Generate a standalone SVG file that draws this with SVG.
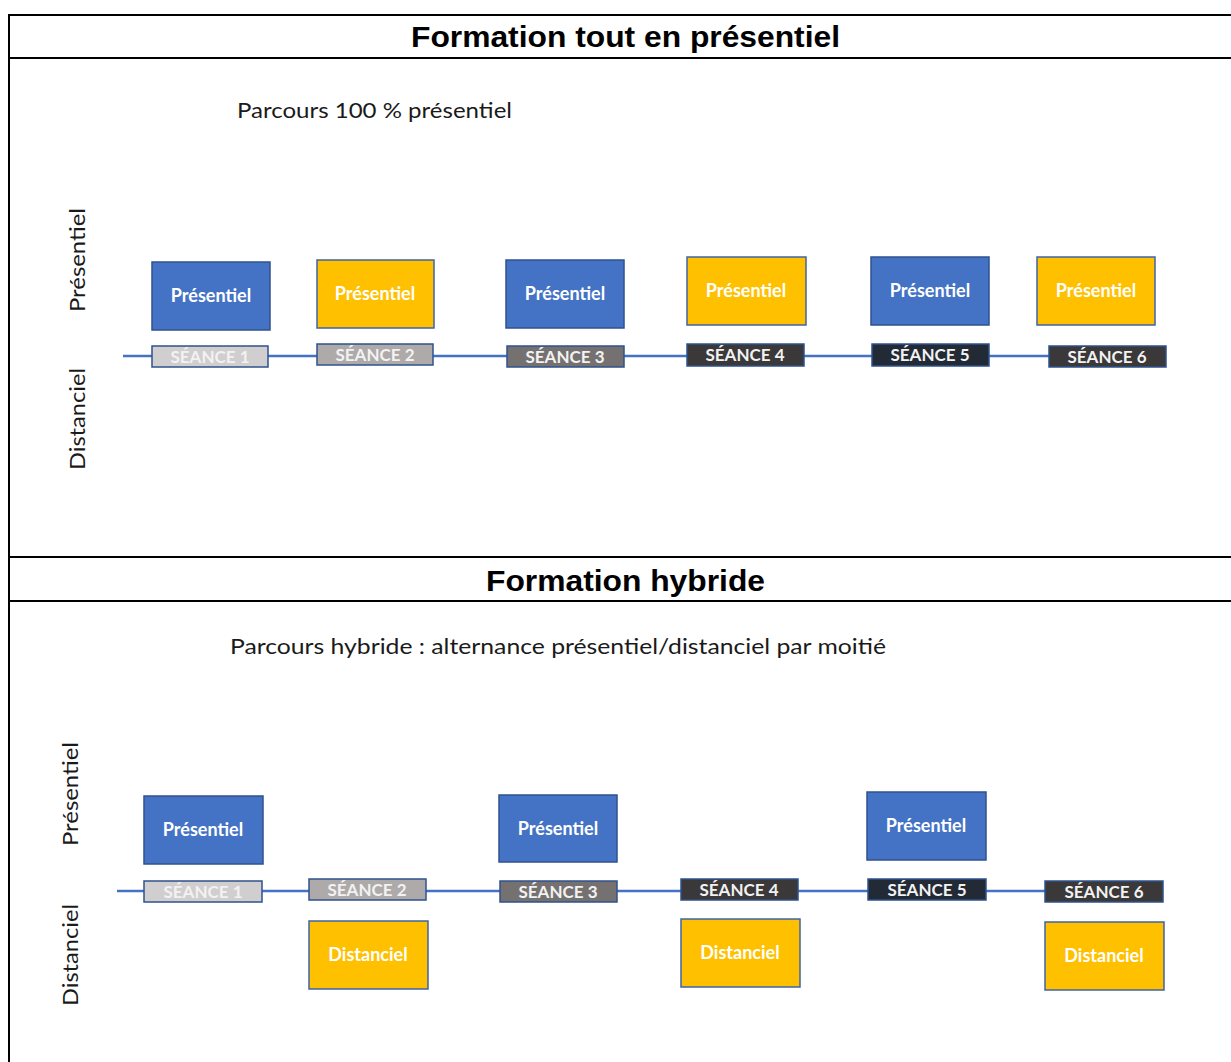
<svg xmlns="http://www.w3.org/2000/svg" width="1231" height="1062" viewBox="0 0 1231 1062">
<style>
.title{font-family:"Liberation Sans",Arial,sans-serif;font-weight:bold;font-size:30px;fill:#000;text-anchor:middle}
.sub{font-family:"Lato","Open Sans",sans-serif;font-size:21px;fill:#1a1a1a}
.side{font-family:"Lato","Open Sans",sans-serif;font-size:22px;fill:#1a1a1a;text-anchor:middle}
.blue{fill:#4472C4;stroke:#2F528F;stroke-width:1.5}
.yel{fill:#FFC000;stroke:#3E63A8;stroke-width:1.5}
.blab{font-family:"Lato","Open Sans",sans-serif;font-weight:bold;font-size:18px;fill:#fff;text-anchor:middle}
.slab{font-family:"Lato","Open Sans",sans-serif;font-weight:bold;font-size:17px;fill:#F2F2F2;text-anchor:middle}
.s{stroke:#2F528F;stroke-width:1.5}
.grid{stroke:#000;stroke-width:2;fill:none}
.conn{stroke:#4472C4;stroke-width:2.5;fill:none}
</style>
<rect width="1231" height="1062" fill="#fff"/>
<g id="table">
<line class="grid" x1="9" y1="14" x2="9" y2="1062"/>
<line class="grid" x1="8" y1="15" x2="1231" y2="15"/>
<line class="grid" x1="8" y1="58" x2="1231" y2="58"/>
<line class="grid" x1="8" y1="557" x2="1231" y2="557"/>
<line class="grid" x1="8" y1="601" x2="1231" y2="601"/>
<text class="title" x="625.5" y="47" textLength="429" lengthAdjust="spacingAndGlyphs">Formation tout en présentiel</text>
<text class="title" x="625.5" y="591" textLength="279" lengthAdjust="spacingAndGlyphs">Formation hybride</text>
<text class="sub" x="237" y="118" textLength="275" lengthAdjust="spacingAndGlyphs">Parcours 100 % présentiel</text>
<text class="sub" x="230" y="654" textLength="656" lengthAdjust="spacingAndGlyphs">Parcours hybride : alternance présentiel/distanciel par moitié</text>
<text class="side" transform="translate(85,260) rotate(-90)" textLength="104" lengthAdjust="spacingAndGlyphs">Présentiel</text>
<text class="side" transform="translate(85,419) rotate(-90)" textLength="102" lengthAdjust="spacingAndGlyphs">Distanciel</text>
<text class="side" transform="translate(78,794) rotate(-90)" textLength="104" lengthAdjust="spacingAndGlyphs">Présentiel</text>
<text class="side" transform="translate(78,955) rotate(-90)" textLength="102" lengthAdjust="spacingAndGlyphs">Distanciel</text>
</g>
<g id="connectors">
<line class="conn" x1="123" y1="356" x2="152" y2="356"/>
<line class="conn" x1="268" y1="356" x2="317" y2="356"/>
<line class="conn" x1="433" y1="356" x2="507" y2="356"/>
<line class="conn" x1="624" y1="356" x2="687" y2="356"/>
<line class="conn" x1="804" y1="356" x2="872" y2="356"/>
<line class="conn" x1="989" y1="356" x2="1049" y2="356"/>
<line class="conn" x1="117" y1="891" x2="144" y2="891"/>
<line class="conn" x1="262" y1="891" x2="309" y2="891"/>
<line class="conn" x1="426" y1="891" x2="500" y2="891"/>
<line class="conn" x1="617" y1="891" x2="681" y2="891"/>
<line class="conn" x1="798" y1="891" x2="868" y2="891"/>
<line class="conn" x1="986" y1="891" x2="1045" y2="891"/>
</g>
<g id="t-p1"><rect class="blue" x="152" y="262" width="118" height="68"/><text class="blab" x="211" y="302">Présentiel</text></g>
<g id="t-p2"><rect class="yel" x="317" y="260" width="117" height="68"/><text class="blab" x="375" y="300">Présentiel</text></g>
<g id="t-p3"><rect class="blue" x="506" y="260" width="118" height="68"/><text class="blab" x="565" y="300">Présentiel</text></g>
<g id="t-p4"><rect class="yel" x="687" y="257" width="119" height="68"/><text class="blab" x="746" y="297">Présentiel</text></g>
<g id="t-p5"><rect class="blue" x="871" y="257" width="118" height="68"/><text class="blab" x="930" y="297">Présentiel</text></g>
<g id="t-p6"><rect class="yel" x="1037" y="257" width="118" height="68"/><text class="blab" x="1096" y="297">Présentiel</text></g>
<g id="t-s1"><rect class="s" x="152" y="346" width="116" height="21" fill="#D0CECE"/><text class="slab" x="210" y="363">SÉANCE 1</text></g>
<g id="t-s2"><rect class="s" x="317" y="344" width="116" height="21" fill="#AEAAAA"/><text class="slab" x="375" y="361">SÉANCE 2</text></g>
<g id="t-s3"><rect class="s" x="507" y="346" width="117" height="21" fill="#767171"/><text class="slab" x="565" y="363">SÉANCE 3</text></g>
<g id="t-s4"><rect class="s" x="687" y="344" width="117" height="22" fill="#3A3838"/><text class="slab" x="745" y="361">SÉANCE 4</text></g>
<g id="t-s5"><rect class="s" x="872" y="344" width="117" height="22" fill="#222A35"/><text class="slab" x="930" y="361">SÉANCE 5</text></g>
<g id="t-s6"><rect class="s" x="1049" y="346" width="117" height="21" fill="#3A3838"/><text class="slab" x="1107" y="363">SÉANCE 6</text></g>
<g id="b-p1"><rect class="blue" x="144" y="796" width="119" height="68"/><text class="blab" x="203" y="836">Présentiel</text></g>
<g id="b-p3"><rect class="blue" x="499" y="795" width="118" height="67"/><text class="blab" x="558" y="835">Présentiel</text></g>
<g id="b-p5"><rect class="blue" x="867" y="792" width="119" height="68"/><text class="blab" x="926" y="832">Présentiel</text></g>
<g id="b-d2"><rect class="yel" x="309" y="921" width="119" height="68"/><text class="blab" x="368" y="961">Distanciel</text></g>
<g id="b-d4"><rect class="yel" x="681" y="919" width="119" height="68"/><text class="blab" x="740" y="959">Distanciel</text></g>
<g id="b-d6"><rect class="yel" x="1045" y="922" width="119" height="68"/><text class="blab" x="1104" y="962">Distanciel</text></g>
<g id="b-s1"><rect class="s" x="144" y="881" width="118" height="21" fill="#D0CECE"/><text class="slab" x="203" y="898">SÉANCE 1</text></g>
<g id="b-s2"><rect class="s" x="309" y="879" width="117" height="21" fill="#AEAAAA"/><text class="slab" x="367" y="896">SÉANCE 2</text></g>
<g id="b-s3"><rect class="s" x="500" y="881" width="117" height="21" fill="#767171"/><text class="slab" x="558" y="898">SÉANCE 3</text></g>
<g id="b-s4"><rect class="s" x="681" y="879" width="117" height="21" fill="#3A3838"/><text class="slab" x="739" y="896">SÉANCE 4</text></g>
<g id="b-s5"><rect class="s" x="868" y="879" width="118" height="21" fill="#222A35"/><text class="slab" x="927" y="896">SÉANCE 5</text></g>
<g id="b-s6"><rect class="s" x="1045" y="881" width="118" height="21" fill="#3A3838"/><text class="slab" x="1104" y="898">SÉANCE 6</text></g>
</svg>
